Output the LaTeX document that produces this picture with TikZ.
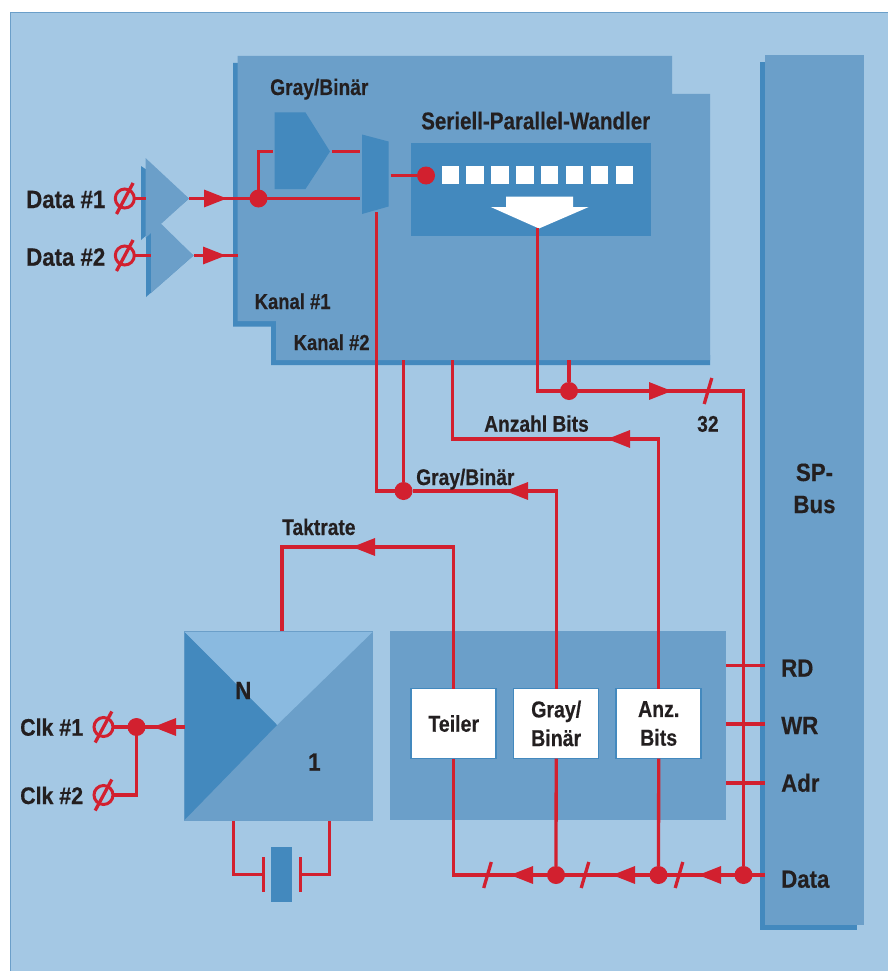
\documentclass[tikz,border=0pt]{standalone}
\usepackage{fontspec}
\setmainfont{Liberation Sans}[FakeStretch=0.85, BoldFeatures={FakeBold=0.4}]
\newfontfamily\widefont{Liberation Sans}[FakeStretch=0.89, BoldFeatures={FakeBold=0.4}]
\usepackage{tikz}
\usetikzlibrary{arrows.meta, positioning, calc}
\definecolor{panelbg}{HTML}{A4C8E4}
\definecolor{blockmid}{HTML}{6B9FC9}
\definecolor{blockdark}{HTML}{4389BE}
\definecolor{blocklight}{HTML}{8ABAE0}
\definecolor{linered}{HTML}{D2202F}
\definecolor{textmain}{HTML}{231F20}
\tikzstyle{flatbox} = [rectangle, inner sep=0pt, outer sep=0pt]
\tikzstyle{wire} = [line width=3.3pt, color=linered]
\tikzstyle{arrow} = [wire, -{Triangle[length=23pt,width=17pt]}]
\tikzstyle{dot} = [circle, fill=linered, inner sep=0pt, outer sep=0pt, minimum size=18pt]
\tikzstyle{nullsym} = [circle, draw=linered, line width=3pt, inner sep=0pt, outer sep=0pt, minimum size=19pt]
\tikzstyle{plate} = [flatbox, fill=linered, minimum width=3.3pt, minimum height=35pt]
\tikzstyle{cell} = [flatbox, fill=white, minimum size=17.3pt]
\tikzstyle{regbox} = [flatbox, draw=blockdark, line width=1.5pt, fill=white, minimum width=85pt, minimum height=70pt, align=center, text=textmain, font=\fontsize{23}{28.7}\selectfont\bfseries]
\tikzstyle{tag} = [inner sep=0pt, anchor=base west, text=textmain, font=\fontsize{22.6}{28.7}\selectfont\bfseries]
\tikzstyle{bigtag} = [tag, font=\widefont\fontsize{25}{30}\selectfont\bfseries]
\tikzstyle{clktag} = [tag, font=\widefont\fontsize{24}{30}\selectfont\bfseries]

\begin{document}
\begin{tikzpicture}[x=1pt, y=-1pt]
    \useasboundingbox (0,0) rectangle (887,971);
    \fill[white] (0,0) rectangle (887,971);
    \fill[panelbg, draw=blockmid, line width=1.5pt] (10.5,12.5) rectangle (900,985);

    % Channels
    \fill[blockdark] (233,63) -- (233,326.5) -- (271,326.5) -- (271,365) -- (710,365) -- (710,355) -- (276,355) -- (276,321) -- (238,321) -- (238,63) -- cycle;
    \fill[blockmid] (237.5,56) -- (672,56) -- (672,94) -- (710,94) -- (710,360) -- (276,360) -- (276,321) -- (237.5,321) -- cycle;

    % Bus
    \node[flatbox, fill=blockdark, minimum width=97pt, minimum height=868pt] (busshadow) at (808.5,496) {};
    \node[flatbox, fill=blockmid, minimum width=99pt, minimum height=870pt] (spbus) at (814.5,490) {};

    % Input amplifiers
    \coordinate (ampBout) at (193.5,255.5);
    \coordinate (ampAout) at (189,198.5);
    \fill[blockdark] (146,214) -- (146,297) -- (ampBout) -- cycle;
    \fill[blockmid] (151,214) -- (151,293) -- (ampBout) -- cycle;
    \fill[blockdark] (141,166) -- (141,240) -- (ampAout) -- cycle;
    \fill[blockmid] (145.5,158) -- (145.5,238) -- (ampAout) -- cycle;

    % Gray/Binaer and multiplexer
    \fill[blockdark] (274.5,112.5) -- (305.5,112.5) -- (330,151.5) -- (305.5,189) -- (274.5,189) -- cycle;
    \fill[blockdark] (362,134.5) -- (388.5,141.5) -- (388.5,206.5) -- (362,214) -- cycle;

    % Converter
    \node[flatbox, fill=blockdark, minimum width=239.5pt, minimum height=93pt] (wandler) at (530.75,189.5) {};
    \foreach \i in {0,...,7}
        \node[cell] (cell\i) at ({450.2+24.9*\i},175) {};
    \fill[white] (506,196.5) -- (573,196.5) -- (573,207) -- (588.7,207) -- (539,228.5) -- (490.7,207) -- (506,207) -- cycle;

    % Divider
    \node[flatbox, fill=blockmid, draw=blockmid, line width=1.5pt, minimum size=188pt] (divider) at (278.5,726) {};
    \coordinate (hub) at (277,725);
    \fill[blocklight] (divider.north west) -- (divider.north east) -- (hub) -- cycle;
    \fill[blockdark] (divider.north west) -- (hub) -- (divider.south west) -- cycle;

    % Registers
    \node[flatbox, fill=blockmid, minimum width=336.5pt, minimum height=189pt] (regs) at (557.75,725.5) {};
    \node[regbox] (teiler) at (453.7,723.5) {Teiler};
    \node[regbox, right=17.5pt of teiler] (graybin) {Gray/\\Binär};
    \node[regbox, right=17.5pt of graybin] (anzbits) {Anz.\\Bits};

    % Crystal
    \node[flatbox, fill=blockdark, minimum width=21pt, minimum height=55pt] (xtal) at (281.5,874.5) {};
    \node[plate] (plateL) at (263.5,874.5) {};
    \node[plate] (plateR) at (300.5,874.5) {};

    % Inputs
    \node[nullsym] (dataA) at (124.8,198.5) {};
    \node[nullsym] (dataB) at (124.8,255.5) {};
    \node[nullsym] (clkA) at (103.5,727) {};
    \node[nullsym] (clkB) at (103.5,795) {};

    % Junctions
    \node[dot] (dotIn) at (258.5,198.5) {};
    \node[dot] (dotSer) at (426,175.5) {};
    \node[dot] (dotSum) at (569,391) {};
    \node[dot] (dotGray) at (403.5,491) {};
    \node[dot] (dotClk) at (136.5,727) {};
    \node[dot] (dotG) at (556,875) {};
    \node[dot] (dotA) at (658.5,875) {};
    \node[dot] (dotD) at (743.5,875) {};

    % Free ends
    \coordinate (ampBin) at (151,255.5);
    \coordinate (ampAin) at (145.5,198.5);
    \coordinate (kanalIn) at (237.5,255.5);
    \coordinate (grayIn) at (273,151.5);
    \coordinate (grayOut) at (332,151.5);
    \coordinate (muxA) at (359.5,151.5);
    \coordinate (muxB) at (359.5,198.5);
    \coordinate (muxOut) at (390.5,175.5);
    \coordinate (muxS) at (376.5,212);
    \coordinate (wandlerS) at (537.5,228);
    \coordinate (sumCorner) at (743.5,391);
    \coordinate (kanalA) at (569,360);
    \coordinate (kanalB) at (403.5,360);
    \coordinate (kanalC) at (452.5,360);
    \coordinate (anzRow) at (452.5,439);
    \coordinate (taktA) at (282,631);
    \coordinate (taktRow) at (282,547);
    \coordinate (xtalA) at (233.5,821);
    \coordinate (xtalB) at (329.5,821);
    \coordinate (busData) at (765,875);

    % Wires
    \draw[wire] (dataA) -- (ampAin);
    \draw[wire] (dataB) -- (ampBin);
    \draw[wire] (ampAout) -- (muxB);
    \draw[wire] (ampBout) -- (kanalIn);
    \draw[wire] (dotIn) |- (grayIn);
    \draw[wire] (grayOut) -- (muxA);
    \draw[wire] (muxOut) -- (dotSer);
    \draw[wire] (wandlerS) |- (sumCorner) -- (dotD);
    \draw[wire] (kanalA) -- (dotSum);
    \draw[wire] (kanalB) -- (dotGray);
    \draw[wire] (muxS) |- (dotGray) -| (graybin.north);
    \draw[wire] (kanalC) -- (anzRow) -| (anzbits.north);
    \draw[wire] (taktA) -- (taktRow) -| (teiler.north);
    \draw[wire] (divider.west |- dotClk) -- (clkA);
    \draw[wire] (dotClk) |- (clkB);
    \draw[wire] (xtalA) |- (plateL);
    \draw[wire] (xtalB) |- (plateR);
    \draw[wire] (teiler.south) |- (busData);
    \draw[wire] (graybin.south) -- (dotG);
    \draw[wire] (anzbits.south) -- (dotA);
    \foreach \ypos in {665.5, 724, 783}
        \draw[wire] (regs.east |- 0,\ypos) -- (spbus.west |- 0,\ypos);

    % Arrow heads
    \foreach \tipx/\tipy/\dir in {227/198.5/-23, 226/255.5/-23, 672/391/-23, 352/547/23, 505/491/23, 607/439/23, 153/727/23, 510/875/23, 612/875/23, 698/875/23} {
        \coordinate (tip) at (\tipx,\tipy);
        \draw[arrow] ($(tip)+(\dir,0)$) -- (tip);
    }

    % Bus slashes
    \foreach \xpos/\ypos in {708/391, 487.5/875, 585/875, 679/875} {
        \coordinate (cut) at (\xpos,\ypos);
        \draw[wire] ($(cut)+(-3.8,13)$) -- ($(cut)+(3.8,-13)$);
    }
    \foreach \nm in {dataA, dataB, clkA, clkB}
        \draw[wire] ($(\nm)+(-8.3,15.5)$) -- ($(\nm)+(8.3,-15.5)$);

    % Labels
    \node[bigtag] (lbDataA) at (26,208) {Data \#1};
    \node[bigtag] (lbDataB) at (26,265.7) {Data \#2};
    \node[tag] (lbGrayA) at (270,95) {Gray/Binär};
    \node[tag, font=\fontsize{24.2}{28.7}\selectfont\bfseries] (lbWandler) at (421,129.3) {Seriell-Parallel-Wandler};
    \node[tag, font=\fontsize{21.7}{28.7}\selectfont\bfseries] (lbKanalA) at (254.5,309) {Kanal \#1};
    \node[tag, font=\fontsize{21.7}{28.7}\selectfont\bfseries] (lbKanalB) at (293.5,350) {Kanal \#2};
    \node[tag] (lb32) at (697,431.7) {32};
    \node[tag] (lbAnzahl) at (484,431.7) {Anzahl Bits};
    \node[tag] (lbGrayB) at (416,485) {Gray/Binär};
    \node[tag] (lbTakt) at (282,535) {Taktrate};
    \node[clktag] (lbClkA) at (20,735.7) {Clk \#1};
    \node[clktag] (lbClkB) at (20,804) {Clk \#2};
    \node[bigtag] (lbN) at (235,699) {N};
    \node[bigtag] (lbOne) at (308,770.7) {1};
    \node[bigtag, anchor=base] (lbSP) at (814.5,481) {SP-};
    \node[bigtag, anchor=base] (lbBus) at (814.5,513) {Bus};
    \node[bigtag] (lbRD) at (781,676.7) {RD};
    \node[bigtag] (lbWR) at (781,734) {WR};
    \node[bigtag] (lbAdr) at (781,791.7) {Adr};
    \node[bigtag] (lbData) at (781,887.7) {Data};
\end{tikzpicture}
\end{document}
